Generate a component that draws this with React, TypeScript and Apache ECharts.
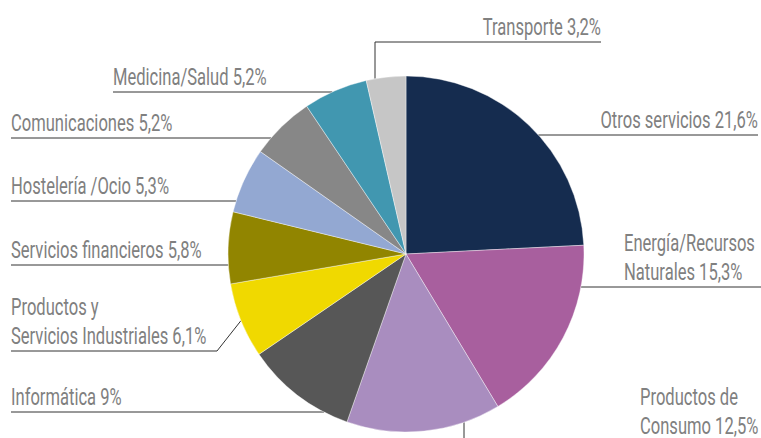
import React, { useEffect, useRef } from "react";
import * as echarts from "echarts";

const categories = [
  "Otros servicios",
  "Energía/Recursos\nNaturales",
  "Productos de\nConsumo",
  "Informática",
  "Productos y\nServicios Industriales",
  "Servicios financieros",
  "Hostelería /Ocio",
  "Comunicaciones",
  "Medicina/Salud",
  "Transporte",
];
const values = [21.6, 15.3, 12.5, 9, 6.1, 5.8, 5.3, 5.2, 5.2, 3.2];
const colors = [
  "#152c4f",
  "#a85f9e",
  "#a98dbf",
  "#575757",
  "#f0d900",
  "#918500",
  "#93a8d2",
  "#878787",
  "#4197b0",
  "#c6c6c6",
];

// pie geometry and label placement (layout only)
const CX = 406;
const CY = 254;
const R = 178;
const FONT_SIZE = 23;
const SCALE_X = 0.72;
const LINE_GAP = 29;
const TEXT_RAISE = 15;
type Spot = {
  kind: "h" | "v" | "knee";
  lineY: number;
  textX: number;
  align: "left" | "right";
  lineEnd: number;
  lineX?: number;
  kneeX?: number;
  textLift?: number;
};
const spots: Spot[] = [
  { kind: "h", lineY: 135, textX: 758, align: "right", lineEnd: 758 },
  { kind: "h", lineY: 287, textX: 624, align: "left", lineEnd: 761 },
  { kind: "v", lineY: 443, textX: 640, align: "left", lineEnd: 761, lineX: 464, textLift: 2 },
  { kind: "h", lineY: 412, textX: 11, align: "left", lineEnd: 11 },
  { kind: "knee", lineY: 351, textX: 11, align: "left", lineEnd: 11, kneeX: 217 },
  { kind: "h", lineY: 265, textX: 11, align: "left", lineEnd: 11 },
  { kind: "h", lineY: 201, textX: 11, align: "left", lineEnd: 11 },
  { kind: "h", lineY: 138, textX: 11, align: "left", lineEnd: 11 },
  { kind: "h", lineY: 92, textX: 113, align: "left", lineEnd: 113 },
  { kind: "v", lineY: 42, textX: 601, align: "right", lineEnd: 601, lineX: 375 },
];

const fmt = (v: number) => String(v).replace(".", ",");

function leaderPoints(i: number): number[][] {
  const s = spots[i];
  if (s.kind === "h") {
    const dx = Math.sqrt(Math.max(0, R * R - (s.lineY - CY) ** 2));
    const sx = s.lineEnd < CX ? CX - dx : CX + dx;
    return [
      [sx, s.lineY],
      [s.lineEnd, s.lineY],
    ];
  }
  if (s.kind === "v") {
    const lx = s.lineX as number;
    const dy = Math.sqrt(Math.max(0, R * R - (lx - CX) ** 2));
    const sy = s.lineY < CY ? CY - dy : CY + dy;
    return [
      [lx, sy],
      [lx, s.lineY],
      [s.lineEnd, s.lineY],
    ];
  }
  const total = values.reduce((a, b) => a + b, 0);
  const before = values.slice(0, i).reduce((a, b) => a + b, 0);
  const theta = ((before + values[i] / 2) / total) * Math.PI * 2;
  const p0 = [CX + R * Math.sin(theta), CY - R * Math.cos(theta)];
  return [p0, [s.kneeX as number, s.lineY], [s.lineEnd, s.lineY]];
}

export default function App() {
  const ref = useRef<HTMLDivElement>(null);
  useEffect(() => {
    if (!ref.current) return;
    const chart = echarts.init(ref.current, null, { renderer: "svg" });
    const graphics: any[] = [];
    categories.forEach((name, i) => {
      const s = spots[i];
      graphics.push({
        type: "polyline",
        silent: true,
        shape: { points: leaderPoints(i) },
        style: { stroke: "#333333", lineWidth: 1, fill: null },
      });
      const lines = `${name} ${fmt(values[i])}%`.split("\n");
      lines.forEach((ln, k) => {
        graphics.push({
          type: "text",
          silent: true,
          x: s.textX,
          y:
            s.lineY -
            TEXT_RAISE -
            (s.textLift || 0) -
            (lines.length - 1 - k) * LINE_GAP,
          scaleX: SCALE_X,
          style: {
            text: ln,
            fill: "#808080",
            font: `${FONT_SIZE}px Roboto, 'Noto Sans', sans-serif`,
            textAlign: s.align,
            textVerticalAlign: "middle",
          },
        });
      });
    });
    chart.setOption({
      animation: false,
      backgroundColor: "#ffffff",
      graphic: graphics,
      series: [
        {
          type: "pie",
          center: [CX, CY],
          radius: R,
          startAngle: 90,
          clockwise: true,
          data: categories.map((name, i) => ({
            name,
            value: values[i],
            itemStyle: { color: colors[i] },
          })),
          itemStyle: { borderColor: "#ffffff", borderWidth: 0.4 },
          label: { show: false },
          labelLine: { show: false },
        },
      ],
    });
    return () => chart.dispose();
  }, []);
  return (
    <div
      ref={ref}
      style={{ position: "fixed", left: 0, top: 0, width: 761, height: 438 }}
    />
  );
}
